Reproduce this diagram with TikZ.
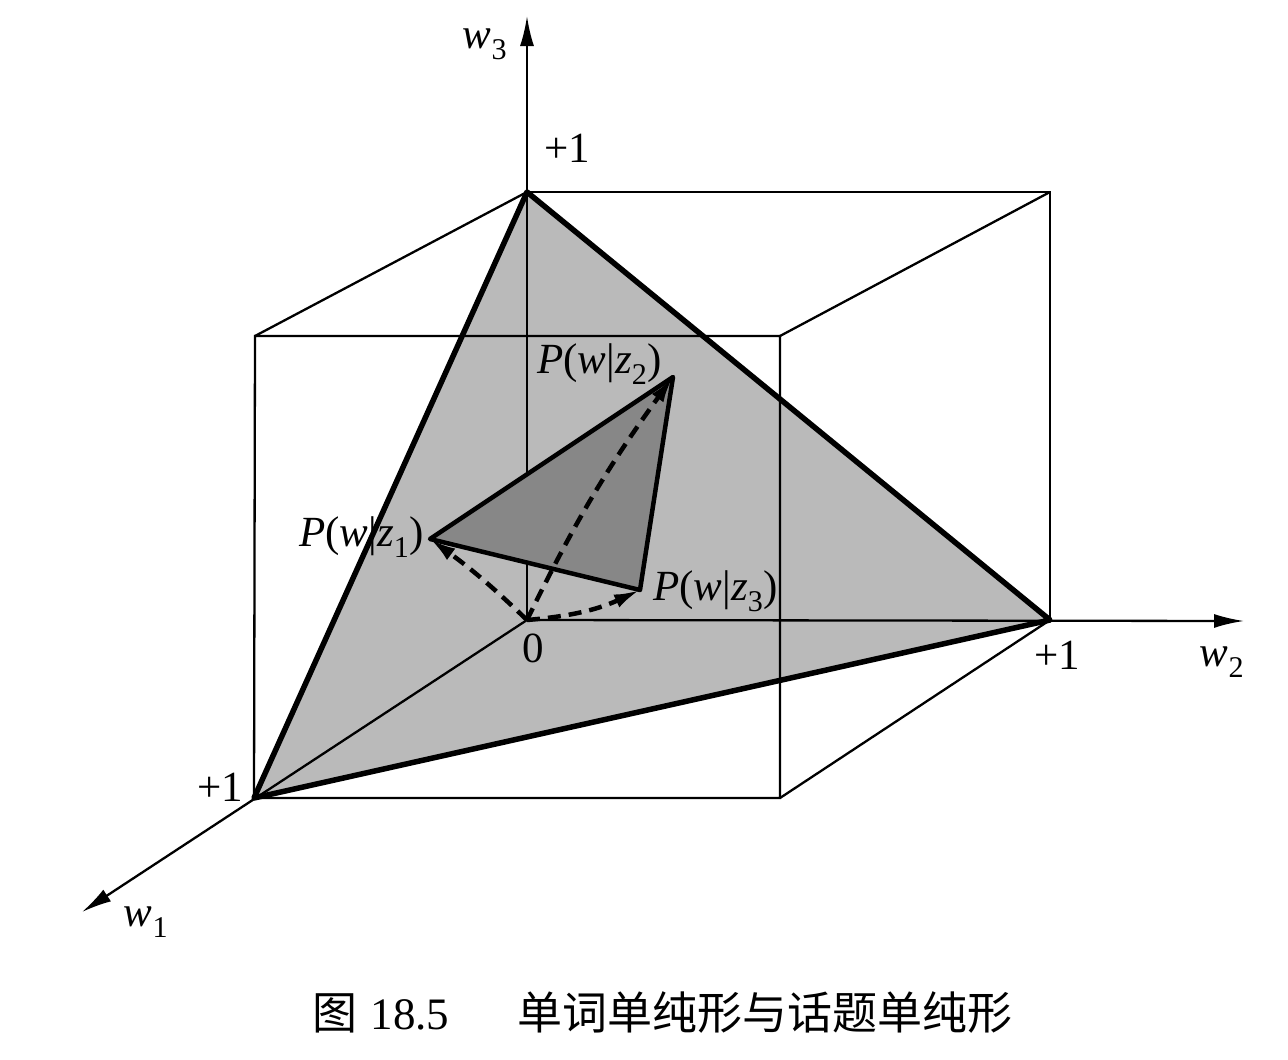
\documentclass[tikz,border=0pt]{standalone}
\usepackage{fontspec}
\setmainfont{Liberation Serif}
\newfontfamily\cjk{Noto Sans CJK SC}
\usetikzlibrary{arrows.meta}
\begin{document}
\begin{tikzpicture}[x=1pt,y=-1pt,
  thinline/.style={line width=2.3pt},
  simplexedge/.style={line width=5.5pt, line join=round, line cap=round},
  inneredge/.style={line width=4.5pt, line join=round, line cap=round},
  axisarrow/.style={line width=2.3pt, -{Latex[length=30pt,width=14pt]}},
  dasharrow/.style={line width=4.5pt, dash pattern=on 13pt off 8pt, -{Latex[length=26pt,width=14pt]}},
  lbl/.style={font=\fontsize{43pt}{50pt}\selectfont, inner sep=0pt},
  caplbl/.style={font=\fontsize{45pt}{52pt}\selectfont, inner sep=0pt, anchor=base},
]
\useasboundingbox (0,0) rectangle (1288,1060);
\fill[white] (0,0) rectangle (1288,1060);
% key points
\coordinate (O) at (527,620);
\coordinate (A) at (527,192);   % w3 = +1
\coordinate (B) at (1050,620);  % w2 = +1
\coordinate (C) at (254,798);   % w1 = +1
\coordinate (BT) at (1050,192); % back top right
\coordinate (FTL) at (255,336);
\coordinate (FTR) at (780,336);
\coordinate (FBR) at (780,798);
\coordinate (w1tip) at (82,912);
\coordinate (w2tip) at (1244,621);
\coordinate (w3tip) at (527,16);
\coordinate (P1) at (430,539);
\coordinate (P2) at (673,377);
\coordinate (P3) at (640,590);
% simplex fill
\fill[black!27] (A) -- (B) -- (C) -- cycle;
% cube edges
\draw[thinline] (A) -- (BT) -- (B);
\draw[thinline] (FTL) -- (FTR) -- (FBR) -- (C) -- cycle;
\draw[thinline] (A) -- (FTL);
\draw[thinline] (BT) -- (FTR);
\draw[thinline] (B) -- (FBR);
% axes
\draw[axisarrow] (O) -- (w3tip);
\draw[axisarrow] (O) -- (w2tip);
\draw[axisarrow] (O) -- (w1tip);
% simplex edges
\draw[simplexedge] (A) -- (B) -- (C) -- cycle;
% inner simplex
\fill[black!47] (P1) -- (P2) -- (P3) -- cycle;
\draw[inneredge] (P1) -- (P2) -- (P3) -- cycle;
% dashed arrows
\draw[dasharrow] (O) to[bend left=5] (P2);
\draw[dasharrow] (O) to[bend right=4] (P1);
\draw[dasharrow] (O) to[bend right=10] (P3);
% labels
\node[lbl] (lw3) at (485,44) {\itshape w\textsubscript{\upshape 3}};
\node[lbl] (lw2) at (1222,662) {\itshape w\textsubscript{\upshape 2}};
\node[lbl] (lw1) at (146,922) {\itshape w\textsubscript{\upshape 1}};
\node[lbl] (l3p) at (567,148) {+1};
\node[lbl] (l2p) at (1057,655) {+1};
\node[lbl] (l1p) at (220,787) {+1};
\node[lbl] (l0) at (533,648) {0};
\node[lbl, anchor=base east] (lp1) at (424,546) {{\itshape P}({\itshape w}|{\itshape z}\textsubscript{1})};
\node[lbl, anchor=base west] (lp2) at (537,373) {{\itshape P}({\itshape w}|{\itshape z}\textsubscript{2})};
\node[lbl, anchor=base west] (lp3) at (653,600) {{\itshape P}({\itshape w}|{\itshape z}\textsubscript{3})};
% caption
\node[caplbl] (cap1) at (335,1029) {\cjk 图};
\node[caplbl] (cap2) at (410,1029) {18.5};
\node[caplbl] (cap3) at (765,1029) {\cjk 单词单纯形与话题单纯形};
\end{tikzpicture}
\end{document}
